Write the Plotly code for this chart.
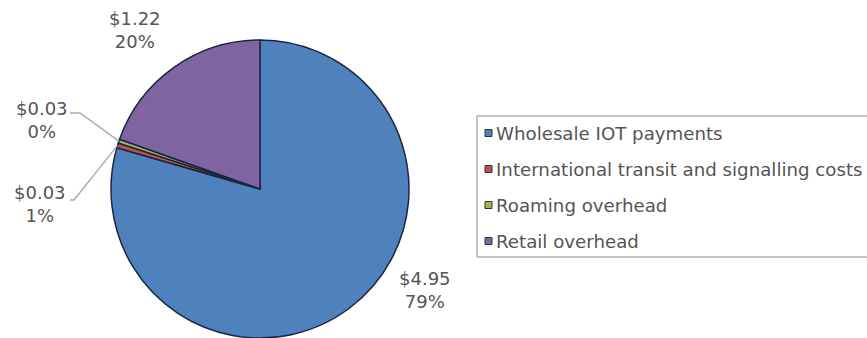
import math
import plotly.graph_objects as go

# Cost breakdown per unit (USD)
categories = [
    "Wholesale IOT payments",
    "International transit and signalling costs",
    "Roaming overhead",
    "Retail overhead",
]
costs = [4.95, 0.034, 0.026, 1.22]
colors = ["#4F81BD", "#C0504D", "#9BBB59", "#8064A2"]

W, H = 867, 338
FONT = "DejaVu Sans, Arial, sans-serif"
TEXT_COLOR = "#555555"
FS = 18
LEGEND_FS = 18.2


def px(x):
    return x / W


def py(y):
    return 1 - y / H


# Pie placement in pixels
cx, cy, R = 260, 189, 149

fig = go.Figure(
    go.Pie(
        labels=categories,
        values=costs,
        sort=False,
        direction="clockwise",
        rotation=0,
        marker=dict(colors=colors, line=dict(color="#1b2640", width=1.5)),
        textinfo="none",
        hoverinfo="label+value+percent",
        showlegend=False,
        domain=dict(x=[px(cx - R), px(cx + R)], y=[py(cy + R), py(cy - R)]),
    )
)

total = sum(costs)
label_texts = [f"${v:.2f}<br>{round(100 * v / total)}%" for v in costs]

# Data label anchor points (pixel centres of each text block)
label_pos = [(425, 290), (40, 204), (42, 120), (135, 30)]

annotations = []
for txt, (lx, ly) in zip(label_texts, label_pos):
    annotations.append(
        dict(
            x=px(lx), y=py(ly), xref="paper", yref="paper",
            text=txt, showarrow=False, xanchor="center", yanchor="middle",
            font=dict(family=FONT, size=FS, color=TEXT_COLOR),
        )
    )

shapes = []


def edge_point(idx, frac_r=1.0):
    before = sum(costs[:idx])
    mid = (before + costs[idx] / 2) / total * 2 * math.pi
    return cx + R * frac_r * math.sin(mid), cy - R * frac_r * math.cos(mid)


# Leader lines for the two thin slices
leaders = [
    (1, [(70, 200), (74, 200)]),
    (2, [(70, 113), (80, 113)]),
]
for idx, pts in leaders:
    ex, ey = edge_point(idx, 1.0)
    path_pts = pts + [(ex, ey)]
    d = "M " + " L ".join(f"{px(x)},{py(y)}" for x, y in path_pts)
    shapes.append(dict(type="path", xref="paper", yref="paper", path=d,
                       line=dict(color="#a8a8a8", width=1.3)))

# Legend box
shapes.append(dict(type="rect", xref="paper", yref="paper",
                   x0=px(477), x1=px(900), y0=py(257), y1=py(116),
                   line=dict(color="#8a8a8a", width=1), fillcolor="rgba(0,0,0,0)"))

legend_y = [133, 169, 205, 241]
for name, col, ly in zip(categories, colors, legend_y):
    shapes.append(dict(type="rect", xref="paper", yref="paper",
                       x0=px(485), x1=px(492), y0=py(ly + 3.5), y1=py(ly - 3.5),
                       line=dict(color="#333333", width=1), fillcolor=col))
    annotations.append(
        dict(
            x=px(494), y=py(ly), xref="paper", yref="paper",
            text=name, showarrow=False, xanchor="left", yanchor="middle",
            font=dict(family=FONT, size=LEGEND_FS, color=TEXT_COLOR),
        )
    )

fig.update_layout(
    width=W, height=H,
    margin=dict(l=0, r=0, t=0, b=0),
    paper_bgcolor="white",
    plot_bgcolor="white",
    annotations=annotations,
    shapes=shapes,
)

fig.write_html("out.html")
